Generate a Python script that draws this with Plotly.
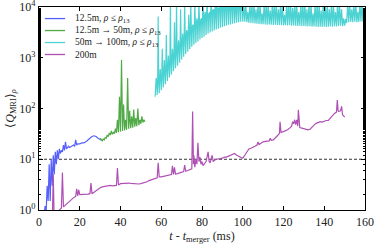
import plotly.graph_objects as go

# ---------------- data ----------------
blue_t = [2.5, 3, 3.5, 4, 4.5, 5, 5.5, 6, 6.5, 7, 7.5, 8, 8.5, 9, 9.5, 10, 10.5, 11, 11.5, 12,
          12.5, 13, 13.5, 14, 14.5, 15, 16, 17, 17.5, 18, 18.5, 19, 20, 21, 22, 23, 24, 25, 26,
          27, 28, 29, 30, 30.5]
blue_q = [0.8, 1.2, 0.9, 3, 1.5, 8, 1.5, 10, 3, 12, 5, 14, 8, 15, 10, 16, 13, 15, 14, 19,
          15, 22, 16, 17, 18, 17, 18, 19, 18, 24, 19, 20, 20, 21, 21, 22, 24, 26, 28,
          29, 28, 26, 25, 24]

green_t = [30, 30.5, 31, 31.5, 32, 32.5, 33, 33.5, 34, 34.5, 35, 35.5, 36, 36.5, 37, 37.5, 38,
           38.5, 39, 39.5, 40, 40.5, 41, 41.5, 42, 42.5, 43, 43.5, 44, 44.5, 45, 45.5, 46, 46.5,
           47, 47.5, 48, 48.5, 49, 49.5, 50, 50.5, 51, 51.5, 52]
green_q = [26, 24, 23, 25, 24, 27, 26, 30, 28, 33, 30, 36, 31, 34, 32, 40, 33,
           60, 34, 170, 35, 900, 36, 120, 37, 60, 38, 400, 40, 90, 41, 70, 42, 95,
           44, 65, 45, 100, 47, 60, 50, 70, 53, 60, 55]

# cyan: lower values at whole ms, upper values at half ms, band-top values at quarter ms
cyan_low_t = list(range(57, 160))
cyan_low = [170, 185, 200, 230, 260, 300, 350, 410, 470, 540, 620, 700, 800, 920, 1050, 1180,
            1320, 1480, 1650, 1800, 1950, 2100, 2280, 2450, 2600, 2800, 3000, 3150, 3300, 3450,
            3600, 3750, 3900, 4050, 4200, 4300, 4450, 4550, 4700, 4800, 4900, 5000, 5100, 5150,
            5100, 5000, 4900, 4850, 4800, 4750, 4700, 4650, 4600, 4600, 4550, 4500, 4550, 4500,
            4450, 4500, 4400, 4450, 4400, 4350, 4400, 4350, 4400, 4300, 4350, 4300, 4250, 4300,
            4200, 4250, 4200, 4150, 4200, 4100, 4150, 4100, 4050, 4100, 4050, 4100, 4050, 4100,
            4150, 4100, 4200, 4150, 4250, 4300, 4200, 4300, 4800, 5000, 5100, 5000, 5100, 5000,
            5100, 5200, 5100]
cyan_high_t = [t + 0.5 for t in range(57, 159)]
cyan_high = [400, 6500, 600, 1500, 900, 2800, 1100, 11000, 1500, 5000, 12000, 2200, 9000, 3000,
             12000, 3500, 7000, 12000, 4500, 12000, 6000, 12000, 5500, 12000, 8000, 12000, 6500,
             12000, 9000, 12000, 12000, 8000, 12000, 12000, 9500, 12000, 12000, 8500, 12000,
             12000, 12000, 9000, 12000, 12000, 12000, 8000, 12000, 12000, 12000, 9000, 12000,
             12000, 7500, 12000, 12000, 12000, 8500, 12000, 12000, 12000, 9000, 12000, 12000,
             7000, 12000, 12000, 12000, 9500, 12000, 12000, 8000, 12000, 12000, 12000, 9000,
             12000, 12000, 7500, 12000, 12000, 12000, 8500, 12000, 12000, 12000, 9000, 12000,
             12000, 8000, 12000, 12000, 9000, 6000, 5800, 12000, 12000, 9000, 12000, 12000,
             8000, 12000, 12000]
# band-top values at t+0.25 and t+0.75 for t = 57..99
cyan_mid = [(300, 350), (330, 380), (380, 420), (430, 480), (500, 560), (580, 650), (680, 760),
            (800, 900), (950, 1050), (1100, 1250), (1300, 1450), (1500, 1650), (1750, 1900),
            (2000, 2300), (2400, 2600), (2700, 3000), (3000, 3400), (3400, 3800), (3800, 4200),
            (4200, 4600), (4600, 5000), (5000, 5500), (5500, 6000), (6000, 6500), (6500, 7000),
            (7000, 7500), (7500, 8000), (8000, 8500), (8500, 9000), (9000, 9500), (9500, 10000),
            (9500, 10500), (10000, 10500), (9800, 11000), (10000, 10500), (10500, 11000),
            (10000, 11000), (10500, 11000), (10000, 11000), (10500, 11500), (10000, 11000),
            (10500, 11000), (11000, 11500)]

mag_t = [6.5, 7, 7.5, 9, 10, 11, 11.5, 12, 13, 14, 15, 16, 17, 18, 18.5, 19, 19.5, 20, 21, 22,
         23, 24, 25, 25.5, 26, 27, 28, 29, 30, 31, 32, 33, 34, 35, 36, 37, 38, 38.5, 39, 40, 41,
         42, 43, 44, 45, 46, 47, 48, 49, 50, 51, 52, 53, 54, 55, 56, 57, 58, 58.5, 59, 60, 61,
         62, 63, 64, 65, 65.5, 66, 66.5, 67, 68, 69, 70, 71, 71.5, 72, 73, 74, 75, 75.4, 75.8,
         76, 76.5, 77, 77.5, 78, 78.5, 79, 79.5, 80, 80.5, 81, 82, 83, 83.5, 84, 85, 85.5, 86,
         87, 88, 89, 90, 91, 92, 93, 94, 95, 96, 97, 98, 99, 100, 101, 102, 103, 104, 105, 106,
         107, 107.5, 108, 109, 110, 111, 112, 113, 113.5, 114, 115, 116, 117, 118, 118.3, 118.8,
         119, 120, 121, 122, 123, 124, 124.5, 125, 125.5, 126, 126.5, 127, 127.3, 127.7, 128,
         129, 130, 131, 132, 133, 134, 135, 136, 137, 138, 139, 140, 141, 142, 143, 144, 145,
         146, 146.4, 146.8, 147, 148, 148.5, 149, 149.5, 150]
mag_q = [0.5, 5, 0.5, 0.8, 1.0, 1.1, 5.5, 1.15, 1.25, 1.35, 1.5, 1.65, 1.75, 1.85, 2.6, 1.9,
         2.5, 2.0, 2.0, 2.0, 2.05, 2.05, 2.1, 3.4, 2.1, 2.25, 2.45, 2.6, 2.75, 2.85, 2.9, 2.95,
         3.0, 3.05, 3.0, 3.0, 3.05, 6.7, 3.1, 3.3, 3.35, 3.4, 3.45, 3.4, 3.35, 3.3, 3.25, 3.2,
         3.25, 3.3, 3.4, 3.45, 3.6, 3.8, 3.9, 4.0, 4.2, 4.3, 8.5, 4.5, 4.5, 4.6, 4.7, 4.8, 4.9,
         5.0, 7.4, 5.0, 6.9, 5.1, 5.2, 5.3, 5.5, 5.7, 7.7, 5.8, 6.0, 6.2, 6.5, 87, 8, 12, 7, 10,
         8, 21, 9, 11, 8, 9, 7.5, 8, 9, 14, 9, 8.5, 12, 9, 9.5, 10, 10, 10.3, 10.5, 11, 11,
         11.5, 12, 12.5, 13, 12, 11.5, 11, 10.5, 12, 14, 16, 16.5, 17, 18, 19, 22, 19.5, 21,
         22, 22.5, 23, 23, 26, 23.5, 24, 26, 29, 32, 55, 33, 34, 35, 36, 38, 41, 45, 55, 50,
         60, 48, 60, 45, 94, 45, 42, 41, 40, 40, 38, 39, 42, 47, 51, 53, 55, 54, 56, 58, 58,
         65, 75, 80, 85, 147, 90, 88, 90, 110, 75, 70, 68]

threshold = 10
x_ticks = [0, 20, 40, 60, 80, 100, 120, 140, 160]
y_ticks = [1, 10, 100, 1000, 10000]
y_ticktext = ["10<sup>0</sup>", "10<sup>1</sup>", "10<sup>2</sup>", "10<sup>3</sup>", "10<sup>4</sup>"]

labels = ["12.5m, <i>ρ</i> ≤ <i>ρ</i><sub>13</sub>", "12.5m → 50m, <i>ρ</i> ≤ <i>ρ</i><sub>13</sub>",
          "50m → 100m, <i>ρ</i> ≤ <i>ρ</i><sub>13</sub>", "200m"]
colors = ["rgb(85,95,250)", "rgb(80,170,70)", "rgb(75,210,210)", "rgb(175,80,180)"]

# cyan zigzag merge: low, band-top, high, band-top, low ...
cyan_t, cyan_q = [], []
for i in range(len(cyan_low_t)):
    t0 = cyan_low_t[i]
    cyan_t.append(t0); cyan_q.append(cyan_low[i])
    if i < len(cyan_high_t):
        if i < len(cyan_mid):
            cyan_t.append(t0 + 0.25); cyan_q.append(cyan_mid[i][0])
        cyan_t.append(cyan_high_t[i]); cyan_q.append(cyan_high[i])
        if i < len(cyan_mid):
            cyan_t.append(t0 + 0.75); cyan_q.append(cyan_mid[i][1])

FONT = "Liberation Serif"
fig = go.Figure()
fig.add_trace(go.Scatter(x=[0, 160], y=[threshold, threshold], mode="lines",
                         line=dict(color="#333", width=1, dash="3px,2px"), showlegend=False))
for t, q, name, c in [(blue_t, blue_q, labels[0], colors[0]),
                      (green_t, green_q, labels[1], colors[1]),
                      (cyan_t, cyan_q, labels[2], colors[2]),
                      (mag_t, mag_q, labels[3], colors[3])]:
    fig.add_trace(go.Scatter(x=t, y=q, mode="lines", name=name, showlegend=False,
                             line=dict(color=c, width=1.2)))

# compact legend (sample line + label), placed in the upper-left corner of the axes
row_y = [0.943, 0.884, 0.825, 0.766]
for name, c, yy in zip(labels, colors, row_y):
    fig.add_shape(type="line", xref="paper", yref="paper", x0=0.018, x1=0.080, y0=yy, y1=yy,
                  line=dict(color=c, width=1.3))
    fig.add_annotation(xref="paper", yref="paper", x=0.104, y=yy, text=name, showarrow=False,
                       xanchor="left", yanchor="middle",
                       font=dict(family=FONT, size=9.5, color="#222"))

axis_common = dict(showline=True, linecolor="black", linewidth=1.3, mirror="ticks",
                   ticks="inside", tickcolor="black", showgrid=False, zeroline=False,
                   automargin=False, ticklabeloverflow="allow",
                   tickfont=dict(family=FONT, size=12, color="#222"))
fig.update_layout(
    width=374, height=245,
    margin=dict(l=39, r=9, t=7, b=35),
    plot_bgcolor="white", paper_bgcolor="white",
    font=dict(family=FONT, color="#222"),
    xaxis=dict(range=[0, 160], tickvals=x_ticks, ticklen=4,
               title=dict(text="<i>t</i> - <i>t</i><sub>merger</sub> (ms)",
                          font=dict(family=FONT, size=12), standoff=2),
               **axis_common),
    yaxis=dict(type="log", range=[0, 4], tickvals=y_ticks, ticktext=y_ticktext, ticklen=4,
               minor=dict(ticks="inside", ticklen=2, tickcolor="black", showgrid=False),
               title=dict(text="⟨<i>Q</i><sub>MRI</sub>⟩<sub><i>ρ</i></sub>",
                          font=dict(family=FONT, size=12), standoff=2),
               **axis_common),
    showlegend=False,
)
fig.write_html("out.html", config={"displayModeBar": False})

# remove the browser's default page margin so the figure sits at the window origin
with open("out.html", encoding="utf-8") as f:
    html = f.read()
html = html.replace("<head>", "<head><style>html,body{margin:0;padding:0;overflow:hidden;}</style>", 1)
with open("out.html", "w", encoding="utf-8") as f:
    f.write(html)
